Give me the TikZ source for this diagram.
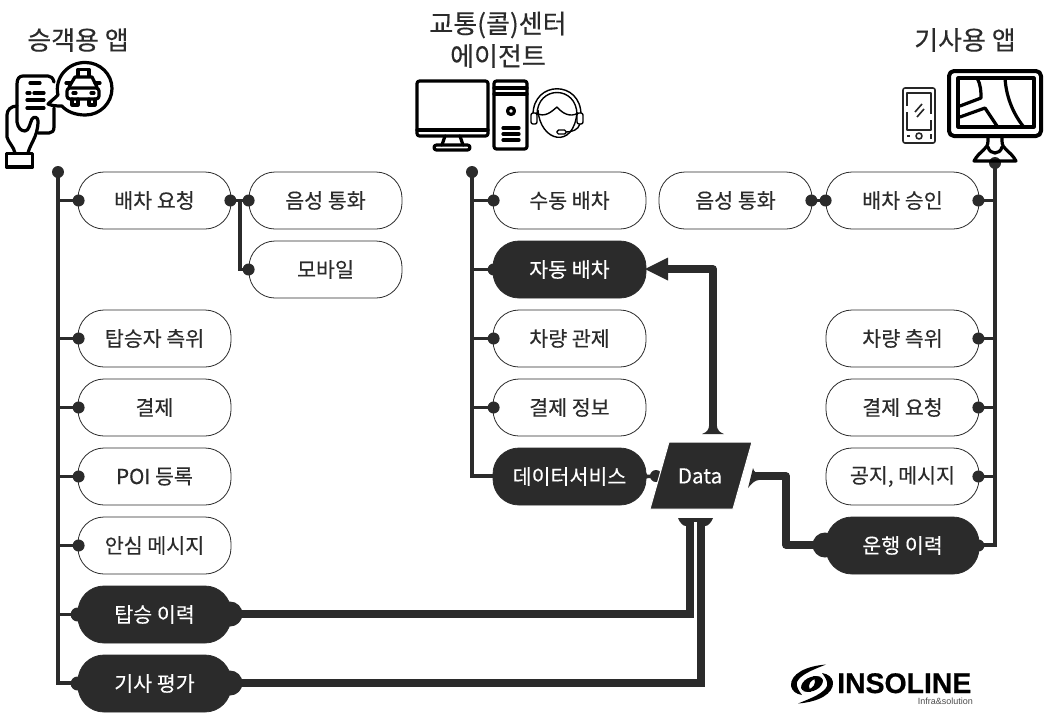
\documentclass[tikz,border=0pt]{standalone}
\usepackage{fontspec}
\setmainfont{Noto Sans CJK KR}[FakeBold=0.3]
\newfontfamily\lsb{Liberation Sans Bold}[FakeBold=0.6]
\newfontfamily\lsr{Liberation Sans}
\usetikzlibrary{calc}
\definecolor{dk}{HTML}{2B2B2B}
\tikzset{
  pill/.style={draw=dk,line width=0.8pt,fill=white,minimum width=153pt,minimum height=57pt,rounded corners=26pt,inner sep=0pt,text=dk,font=\fontsize{20.6}{22}\selectfont},
  dpill/.style={pill,fill=dk,text=white},
  title/.style={text=dk,font=\fontsize{26}{28}\selectfont,inner sep=0pt},
  spine/.style={dk,line width=4.6pt},
  branch/.style={dk,line width=3.6pt},
  link/.style={dk,line width=7.6pt},
  dotn/.style={circle,fill=dk,minimum size=12pt,inner sep=0pt},
  bign/.style={circle,fill=dk,minimum size=25pt,inner sep=0pt},
  midn/.style={circle,fill=dk,minimum size=14pt,inner sep=0pt},
  ico/.style={black,line width=3.2pt,line join=round,line cap=round},
  thin ico/.style={black!85,line width=1.6pt,line join=round},
}
\begin{document}
\begin{tikzpicture}[x=1pt,y=-1pt]
\useasboundingbox (0,0) rectangle (1045,713);
% titles
\node[title] (t1) at (78,40) {승객용 앱};
\node[title] (t2a) at (498,25) {교통(콜)센터};
\node[title] (t2b) at (498,56) {에이전트};
\node[title] (t3) at (965,40) {기사용 앱};
% spine anchors
\coordinate (sl) at (58,172);
\coordinate (sle) at (58,683);
\coordinate (sm) at (472,172);
\coordinate (sme) at (472,476);
\coordinate (sr) at (995,163);
\coordinate (sre) at (995,545);
\draw[spine] (sl) -- (sle) -- ++(22,0);
\draw[spine] (sm) -- (sme) -- ++(22,0);
\draw[spine] (sr) -- (sre) -- ++(-18,0);
\node[dotn] (dsl) at (sl) {};
\node[dotn] (dsm) at (sm) {};
\node[dotn] (dsr) at (sr) {};
% links under pills
\coordinate (c1) at (690,614);
\coordinate (c1b) at (690,520);
\coordinate (c2) at (701,683);
\coordinate (c2b) at (701,520);
\draw[link] (232,614) -- (c1) -- (c1b);
\draw[link] (232,683) -- (c2) -- (c2b);
% pills left
\node[pill] (a1) at (154.5,200.5) {배차 요청};
\node[pill] (a2) at (325.5,200.5) {음성 통화};
\node[pill] (a3) at (325.5,269.5) {모바일};
\node[pill] (a4) at (154.5,338.5) {탑승자 측위};
\node[pill] (a5) at (154.5,407.5) {결제};
\node[pill] (a6) at (154.5,476.5) {POI 등록};
\node[pill] (a7) at (154.5,545.5) {안심 메시지};
\node[dpill] (a8) at (154.5,614.5) {탑승 이력};
\node[dpill] (a9) at (154.5,683.5) {기사 평가};
% pills middle
\node[pill] (b1) at (569.5,200.5) {수동 배차};
\node[dpill] (b2) at (569.5,269.5) {자동 배차};
\node[pill] (b3) at (569.5,338.5) {차량 관제};
\node[pill] (b4) at (569.5,407.5) {결제 정보};
\node[dpill] (b5) at (569.5,476.5) {데이터서비스};
% pills right
\node[pill] (c0) at (735.5,200.5) {음성 통화};
\node[pill] (r1) at (902.5,200.5) {배차 승인};
\node[pill] (r2) at (902.5,338.5) {차량 측위};
\node[pill] (r3) at (902.5,407.5) {결제 요청};
\node[pill] (r4) at (902.5,476.5) {공지, 메시지};
\node[dpill] (r5) at (902.5,545.5) {운행 이력};
% branches
\foreach \n in {a1,a4,a5,a6,a7,a8}{\draw[branch] (\n.west) -- (\n.west -| sl);}
\foreach \n in {b1,b2,b3,b4}{\draw[branch] (\n.west) -- (\n.west -| sm);}
\foreach \n in {r1,r2,r3,r4,r5}{\draw[branch] (\n.east) -- (\n.east -| sr);}
\draw[branch] (a1.east) -- (a2.west);
\draw[branch] ($(a1.east)!0.5!(a2.west)$) |- (a3.west);
\draw[branch] (c0.east) -- (r1.west);
% dots
\foreach \n in {a1,a4,a5,a6,a7,b1,b2,b3,b4}{\node[dotn] (d\n) at ([xshift=1pt]\n.west) {};}
\node[midn] (da8) at ([xshift=0pt]a8.west) {};
\node[midn] (da9) at ([xshift=0pt]a9.west) {};
\node[dotn] (da2) at (a2.west) {};
\node[dotn] (da3) at (a3.west) {};
\node[dotn] (da1e) at ([xshift=-1pt]a1.east) {};
\node[dotn] (dc0) at ([xshift=-1pt]c0.east) {};
\node[dotn] (dr1w) at (r1.west) {};
\foreach \n in {r1,r2,r3,r4,r5}{\node[dotn] (d\n) at ([xshift=-1pt]\n.east) {};}
\node[bign] (ba8) at (230,614) {};
\node[bign] (ba9) at (230,683) {};
% Data
\coordinate (p1) at (669,442);
\coordinate (p2) at (752,442);
\coordinate (p3) at (733,509);
\coordinate (p4) at (650,509);
\draw[branch] (b5.east) -- (656,476);
\node[dotn] (db5) at (656,476) {};
\fill[dk] (640,463) -- (648,476) -- (640,489) -- cycle;
\filldraw[dk,draw=white,line width=1pt] (p1) -- (p2) -- (p3) -- (p4) -- cycle;
\node[text=white,font=\fontsize{20.6}{22}\selectfont,inner sep=0pt] (data) at (700,476) {Data};
% foot bottom
\fill[dk] (678,518) -- (713,518) .. controls (711,523) and (708,526) .. (705,526) -- (686,526) .. controls (683,526) and (680,523) .. (678,518) -- cycle;
\fill[white] (694.2,522) rectangle (696.8,530);
% up arrow to auto dispatch
\coordinate (u0) at (713,432);
\coordinate (u1) at (713,269);
\coordinate (u2) at (666,269);
\draw[link,line join=round] (u0) -- (u1) -- (u2);
\fill[dk] (645,269) -- (668,257.5) -- (668,280.5) -- cycle;
\fill[dk] (702,434) .. controls (707,432.5) and (709,429) .. (709.2,425) -- (716.8,425) .. controls (717,429) and (719,432.5) .. (724,434) -- cycle;
% right connector
\coordinate (v0) at (752,476);
\coordinate (v1) at (786,476);
\coordinate (v2) at (786,545);
\draw[link,line join=round] (v0) -- (v1) -- (v2) -- (815,545);
\fill[dk] (753,468) .. controls (754,472) and (756,473) .. (759,473) -- (759,480) .. controls (755,480) and (751,484) .. (748,488) -- cycle;
\node[bign] (br5) at (825,545) {};
% passenger icon
\begin{scope}[ico]
\draw (38,133) -- (49,133) .. controls (52,133) and (54,131) .. (54,127) -- (54,108);
\draw (54,82) .. controls (53,78) and (51,76) .. (48,76) -- (23,76) .. controls (19,76) and (17,79) .. (17,84) -- (17,122) .. controls (18,128) and (21,131) .. (25,131) .. controls (29,131) and (30,123) .. (32,119) .. controls (34,116) and (38,117) .. (38,121) .. controls (38,129) and (36,135) .. (33,141) .. controls (31,145) and (29,149) .. (28,153);
\draw (17,106) .. controls (11,106) and (7,110) .. (7,115) -- (7,137) .. controls (8,142) and (14,147) .. (15,153);
\draw (6.5,153.5) rectangle (32.5,167);
\draw (30,83) -- (40,83) (27,93) -- (30,93) (34,93) -- (44,93) (27,100) -- (44,100) (27,108) -- (44,108);
\draw (62,106) .. controls (58,106) and (52,106) .. (48,104) .. controls (51,101) and (54,99) .. (58,95) .. controls (54,78) and (68,62) .. (85.5,62.5) .. controls (100,62.5) and (112,74) .. (112,88.5) .. controls (112,103) and (100,115) .. (85.5,115) .. controls (76,115) and (67,112) .. (62,106) -- cycle;
\draw (78,76) -- (78,69.5) -- (89,69.5) -- (89,76);
\draw (69,87) -- (75,77) -- (92,77) -- (97,87);
\draw[rounded corners=3pt] (67,99) -- (67,88) -- (99,88) -- (99,99) -- cycle;
\draw (66,83) -- (71,83) (95,83) -- (100,83);
\draw (72,99) -- (72,105) -- (78,105) -- (78,99) (89,99) -- (89,105) -- (95,105) -- (95,99);
\draw (73,93) -- (76,93) (91,93) -- (94,93);
\end{scope}
% agent icon
\begin{scope}[ico]
\draw[rounded corners=2.5pt] (417,81) rectangle (488,136);
\draw (417,130) -- (488,130);
\draw (445,136) -- (442,145) (460,136) -- (463,145);
\draw[rounded corners=2.5pt] (434,145) rectangle (470,150);
\draw[rounded corners=2.5pt] (494,81) rectangle (527,149);
\draw (494,88) -- (527,88) (494,94) -- (527,94);
\draw (511,111) circle (3.5pt);
\draw (503,128) -- (519,128) (503,134) -- (519,134) (503,140) -- (519,140);
\end{scope}
\begin{scope}[black,line width=1.4pt,line join=round]
\draw (537,115) .. controls (537,85) and (577,85) .. (577,115);
\draw (533,115) .. controls (533,80) and (581,80) .. (581,115);
\draw (538,110) .. controls (540,142) and (574,150) .. (577,112);
\draw (536,113) .. controls (545,118) and (551,112) .. (557,107) .. controls (562,113) and (570,118) .. (578,113);
\draw[rounded corners=2pt,fill=white] (531,113) rectangle (537,124);
\draw[rounded corners=2pt,fill=white] (577,113) rectangle (583,124);
\draw (580,124) .. controls (578,130) and (572,132) .. (566,132);
\draw[rounded corners=1.5pt,fill=white] (557,130) rectangle (566,134);
\end{scope}
% driver icon
\begin{scope}[ico]
\draw[rounded corners=5pt,line width=4pt] (949,71) rectangle (1041,136);
\draw (958,78) rectangle (1034,127);
\draw (977,78) .. controls (981,85) and (981,92) .. (981,98) -- (960,106);
\draw (960,117) -- (985,108) -- (997,126);
\draw (1005,78) .. controls (1006,95) and (1012,112) .. (1023,126);
\draw (988,137) -- (988,141) .. controls (988,150) and (980,150) .. (974,161) -- (1016,161) .. controls (1010,150) and (1002,150) .. (1002,141) -- (1002,137);
\draw (988,147) .. controls (990,155) and (1000,155) .. (1002,147);
\end{scope}
\begin{scope}[thin ico]
\draw[rounded corners=2pt] (903,88) rectangle (935,143);
\draw (907,106) -- (907,93) -- (931,93) -- (931,114) (931,120) -- (931,130) -- (907,130) -- (907,112);
\draw (919,136) circle (3pt);
\draw (907,136) -- (910,136) (931,134) -- (931,139);
\draw (915,112) -- (922,104) (917,117) -- (924,109);
\end{scope}
% logo
\begin{scope}[shift={(812,684)},black]
\foreach \a in {0,180}{
\begin{scope}[rotate=\a]
\fill (14,-19.5) .. controls (-6,-18) and (-22,-10) .. (-21,2) .. controls (-20,7) and (-16,10) .. (-10,11) .. controls (-13,7) and (-16,3) .. (-15,-2) .. controls (-12,-9) and (0,-14) .. (14,-19.5) -- cycle;
\fill (-11,4) .. controls (-11,-4) and (0,-10) .. (9,-7) .. controls (3,-6) and (-3,-3) .. (-3,2) .. controls (-3,4) and (-2,6) .. (-1,8) .. controls (-6,8) and (-10,7) .. (-11,4) -- cycle;
\end{scope}}
\end{scope}
\node[font=\lsb\fontsize{28.4}{30}\selectfont,text=black,inner sep=0pt,anchor=base west] (logo) at (837,693) {INSOLINE};
\node[font=\lsr\fontsize{9}{9}\selectfont,text=black!70,inner sep=0pt,anchor=base east] (logos) at (973,704) {Infra\&solution};
\end{tikzpicture}
\end{document}
